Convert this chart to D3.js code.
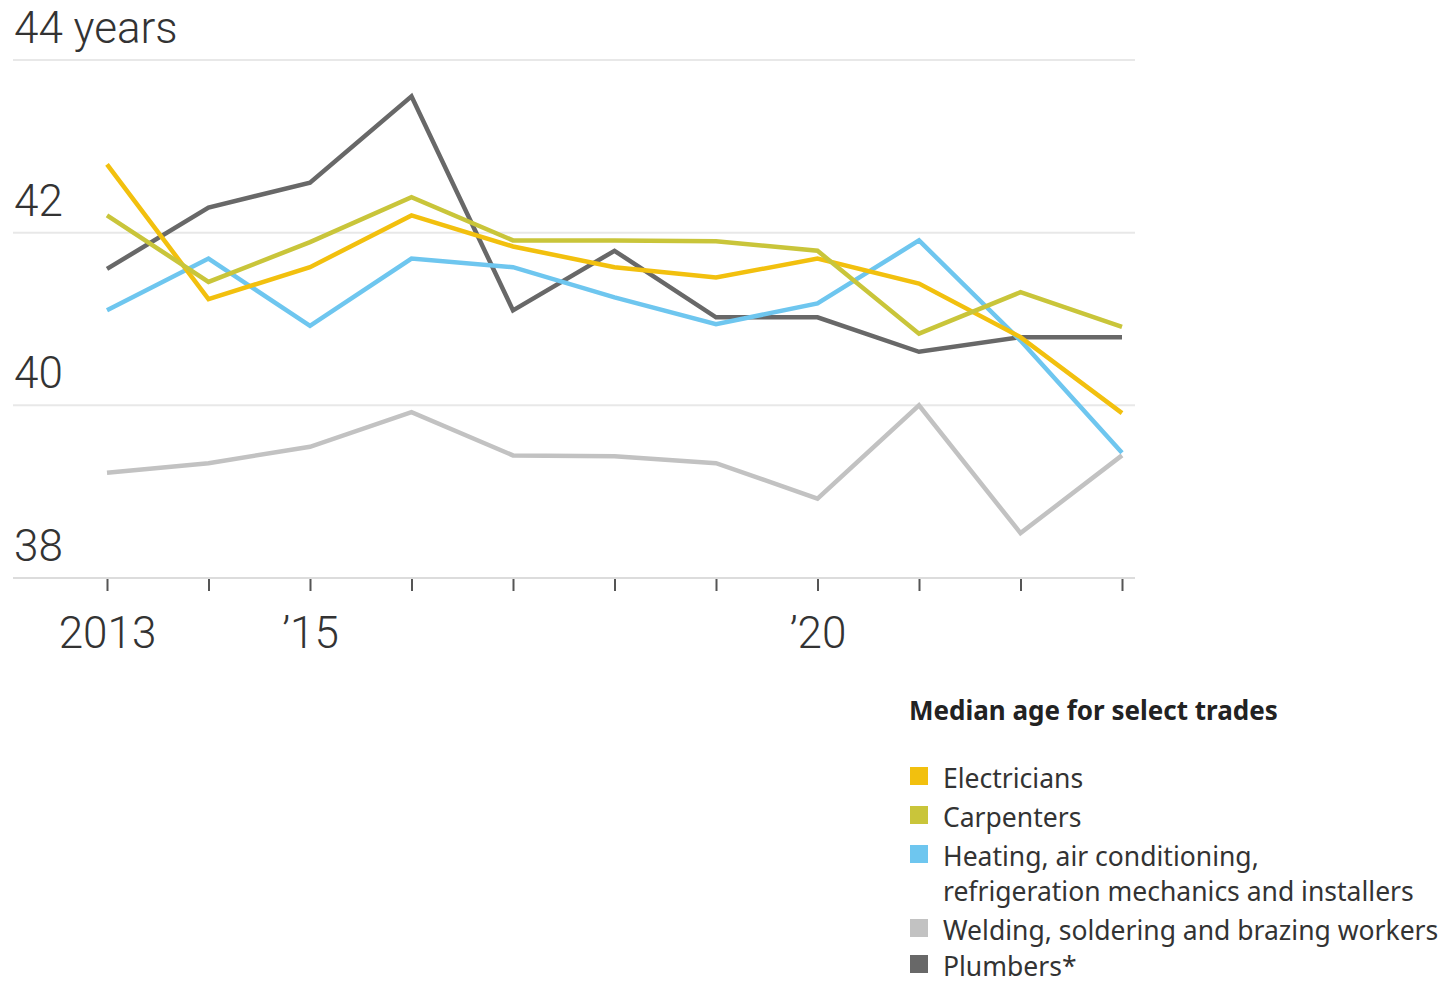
<!DOCTYPE html>
<html>
<head>
<meta charset="utf-8">
<script src="https://cdn.jsdelivr.net/npm/d3@7"></script>
<style>
  html, body { margin: 0; padding: 0; background: #fff; }
  svg { display: block; }
  .axis-label { font-family: Roboto, "Liberation Sans", sans-serif; font-weight: 300; font-size: 44px; fill: #333; }
  .legend-title { font-family: "Noto Sans", "Open Sans", sans-serif; font-weight: 700; font-size: 26px; fill: #222; }
  .legend-text { font-family: "Noto Sans", "Open Sans", sans-serif; font-size: 26.5px; fill: #333; }
</style>
</head>
<body>
<svg id="chart" width="1445" height="984"></svg>
<script>
const years = [2013, 2014, 2015, 2016, 2017, 2018, 2019, 2020, 2021, 2022, 2023];
const electricians = [42.79, 41.23, 41.60, 42.20, 41.84, 41.60, 41.48, 41.70, 41.41, 40.79, 39.91];
const carpenters   = [42.20, 41.43, 41.89, 42.41, 41.91, 41.91, 41.90, 41.79, 40.83, 41.31, 40.91];
const hvac         = [41.10, 41.70, 40.92, 41.70, 41.60, 41.25, 40.94, 41.18, 41.91, 40.75, 39.45];
const welding      = [39.22, 39.33, 39.52, 39.92, 39.42, 39.41, 39.33, 38.92, 40.00, 38.52, 39.42];
const plumbers     = [41.58, 42.29, 42.58, 43.58, 41.10, 41.79, 41.02, 41.02, 40.62, 40.79, 40.79];
const yTicks = [38, 40, 42, 44];
const yTickLabels = ["38", "40", "42", "44 years"];
const xTickLabels = {2013: "2013", 2015: "\u201915", 2020: "\u201920"};
const legendTitle = "Median age for select trades";
const seriesNames = ["Electricians", "Carpenters", "Heating, air conditioning,\nrefrigeration mechanics and installers", "Welding, soldering and brazing workers", "Plumbers*"];
const seriesColors = ["#f2c00e", "#c9c53a", "#6ec6ef", "#c2c2c2", "#686868"];
const seriesData = [electricians, carpenters, hvac, welding, plumbers];

const svg = d3.select("#chart");
const x = d3.scaleLinear().domain([2013, 2023]).range([107, 1122]);
const y = d3.scaleLinear().domain([38, 44]).range([578, 60]);

// gridlines
svg.append("g").selectAll("line").data(yTicks).join("line")
  .attr("x1", 13).attr("x2", 1135)
  .attr("y1", d => y(d)).attr("y2", d => y(d))
  .attr("stroke", d => d === 38 ? "#dcdcdc" : "#e8e8e8")
  .attr("stroke-width", 2);

// y labels
svg.append("g").selectAll("text").data(yTicks).join("text")
  .attr("class", "axis-label")
  .attr("x", 14).attr("y", d => y(d) - 17)
  .text((d, i) => yTickLabels[i]);

// x axis ticks
const xAxis = d3.axisBottom(x)
  .tickValues(years)
  .tickSize(12)
  .tickFormat(d => xTickLabels[d] || "");
const gx = svg.append("g").attr("transform", `translate(0,${y(38)+1})`).call(xAxis);
gx.select(".domain").remove();
gx.attr("font-size", null).attr("font-family", null);
gx.selectAll(".tick line").attr("stroke", "#555").attr("stroke-width", 2);
gx.selectAll(".tick text")
  .attr("class", "axis-label")
  .attr("fill", null)
  .attr("y", 69).attr("dy", 0);

// lines
const line = d3.line().x((d, i) => x(years[i])).y(d => y(d));
const drawOrder = [3, 4, 2, 0, 1];
svg.append("g").selectAll("path").data(drawOrder).join("path")
  .attr("d", k => line(seriesData[k]))
  .attr("fill", "none")
  .attr("stroke", k => seriesColors[k])
  .attr("stroke-width", 4.5)
  .attr("stroke-linejoin", "miter")
  .attr("stroke-linecap", "butt");

// legend
const lg = svg.append("g");
lg.append("text").attr("class", "legend-title").attr("x", 909).attr("y", 720).text(legendTitle);
const rowY = [788, 827, 866, 940, 976];
seriesNames.forEach((name, i) => {
  lg.append("rect").attr("x", 910).attr("y", rowY[i] - 21).attr("width", 18).attr("height", 18).attr("fill", seriesColors[i]);
  const t = lg.append("text").attr("class", "legend-text").attr("x", 943).attr("y", rowY[i]);
  name.split("\n").forEach((part, j) => {
    t.append("tspan").attr("x", 943).attr("dy", j === 0 ? 0 : 35).text(part);
  });
});
</script>
</body>
</html>
